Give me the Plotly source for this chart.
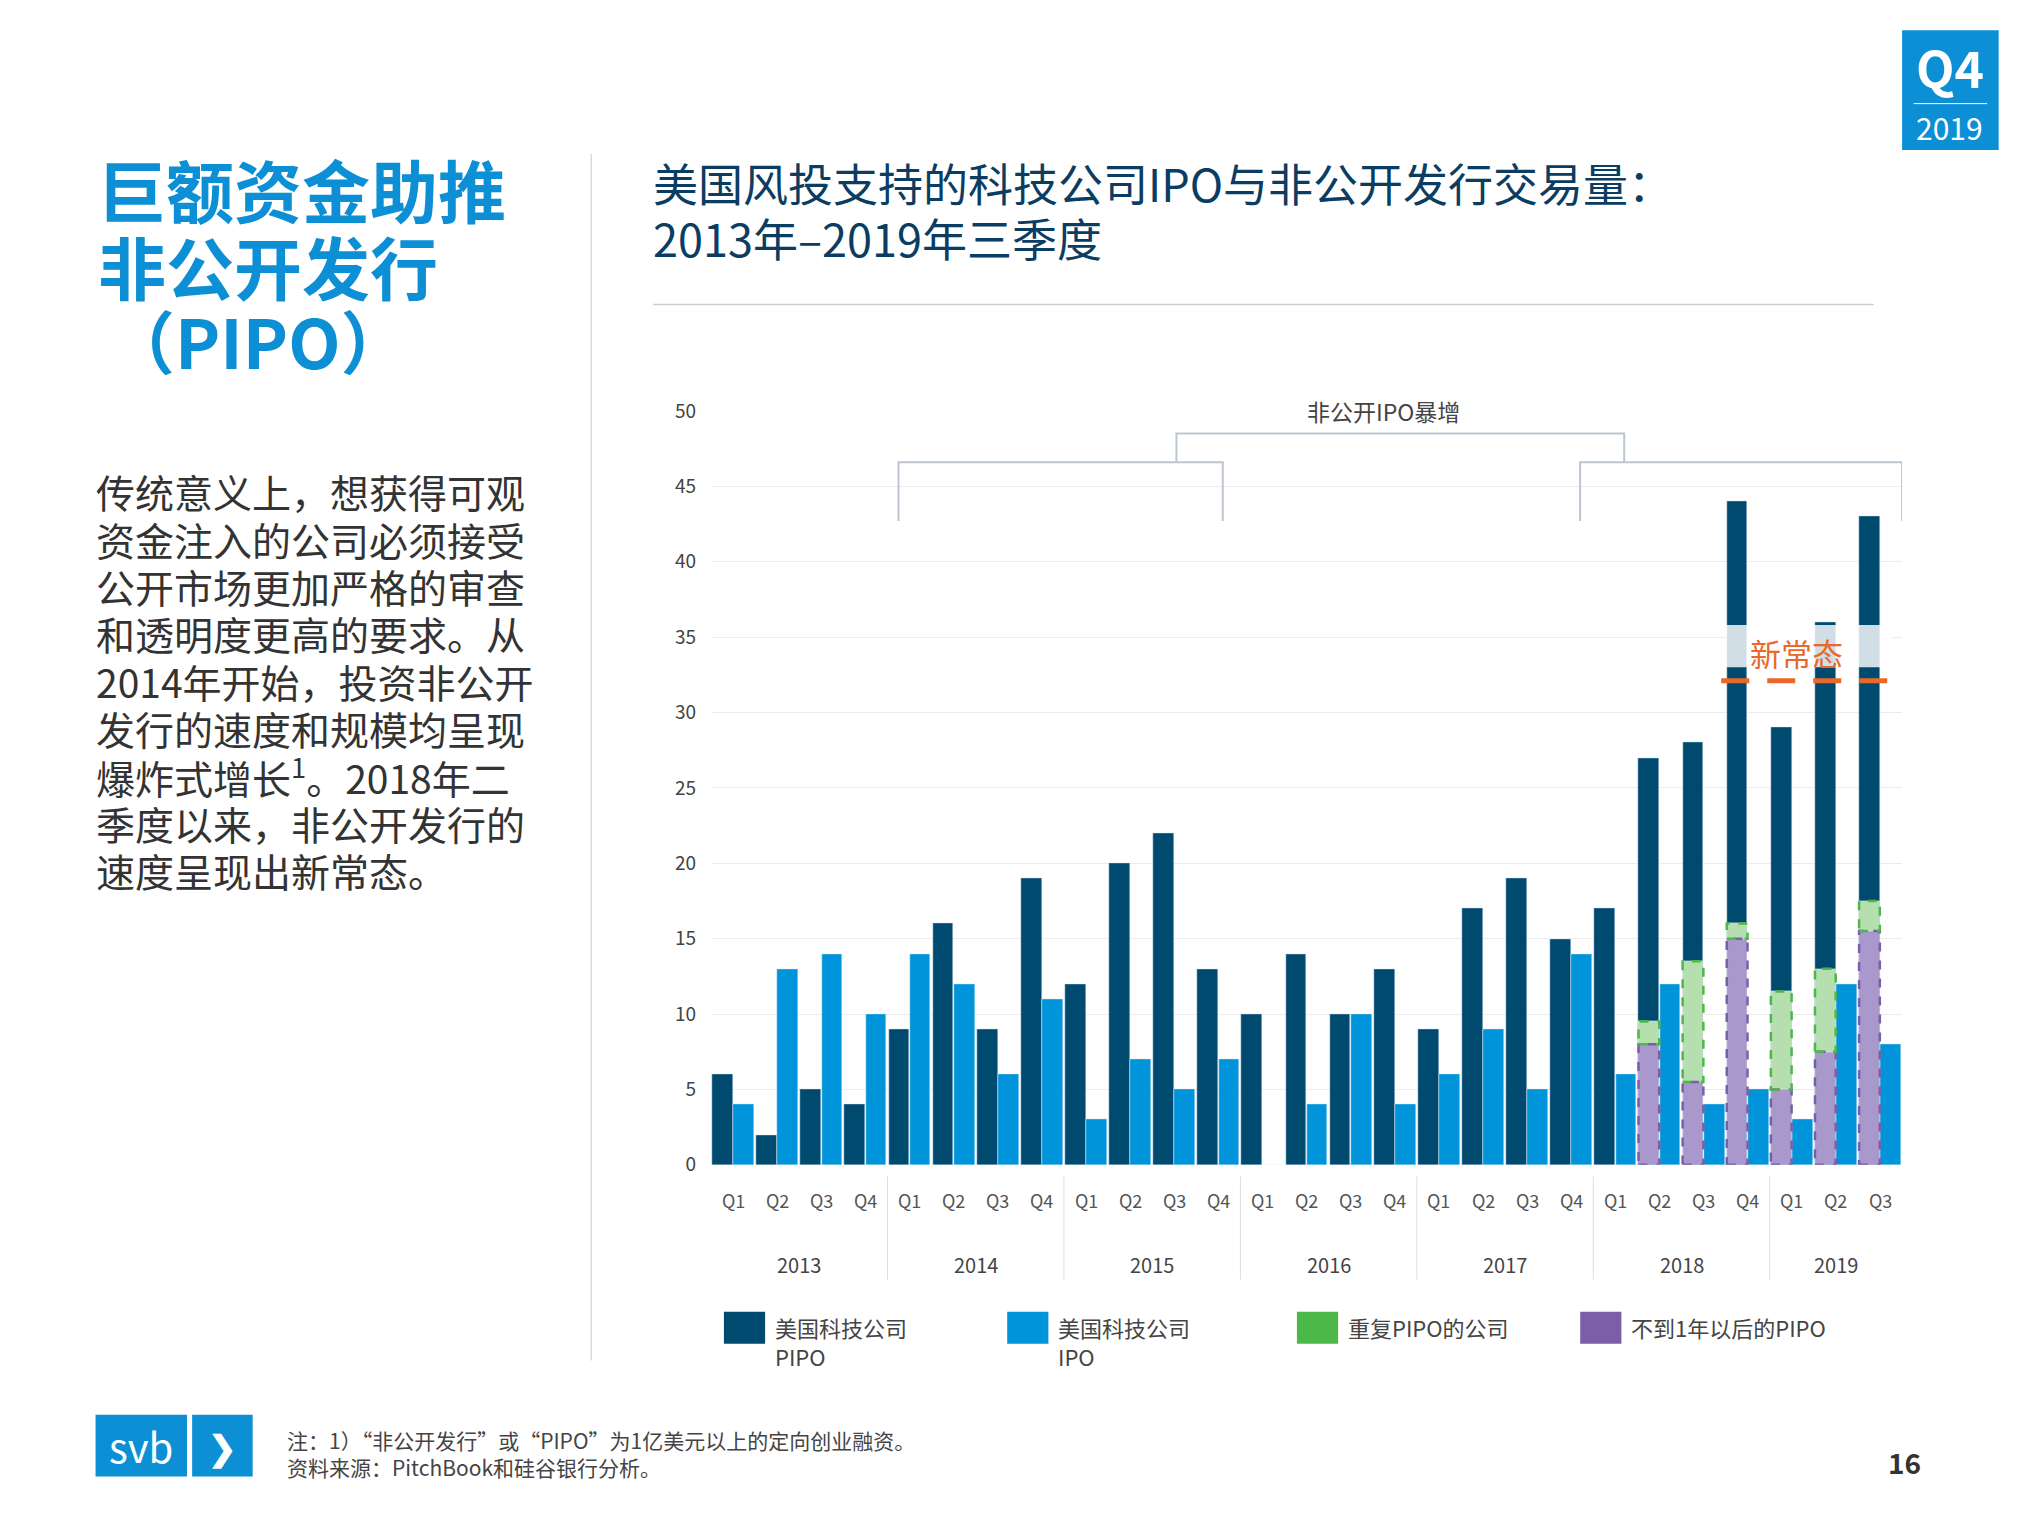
import plotly.graph_objects as go

FONT = "Noto Sans CJK SC"
years = ["2013", "2014", "2015", "2016", "2017", "2018", "2019"]
quarters = ["Q1", "Q2", "Q3", "Q4"] * 6 + ["Q1", "Q2", "Q3"]
pipo = [6, 2, 5, 4, 9, 16, 9, 19, 12, 20, 22, 13, 10, 14, 10, 13, 9, 17, 19, 15, 17, 27, 28, 44, 29, 36, 43]
ipo = [4, 13, 14, 10, 14, 12, 6, 11, 3, 7, 5, 7, 0, 4, 10, 4, 6, 9, 5, 14, 6, 12, 4, 5, 3, 12, 8]
# overlays for 2018Q2 .. 2019Q3
ov_idx = [21, 22, 23, 24, 25, 26]
under1y = [8, 5.5, 15, 5, 7.5, 15.5]
repeat = [1.5, 8, 1, 6.5, 5.5, 2]

title_lines = ["巨额资金助推", "非公开发行", "（PIPO）"]
body_lines = ["传统意义上，想获得可观", "资金注入的公司必须接受", "公开市场更加严格的审查",
              "和透明度更高的要求。从", "2014年开始，投资非公开", "发行的速度和规模均呈现",
              "爆炸式增长<sup>1</sup>。2018年二", "季度以来，非公开发行的", "速度呈现出新常态。"]
chart_title = ["美国风投支持的科技公司IPO与非公开发行交易量：", "2013年–2019年三季度"]

DARK = "#004a70"; LIGHT = "#0095da"; GREEN = "#4cb848"; GFILL = "#b6dfb0"
PURPLE = "#7b5ea7"; PFILL = "#a898cc"; ORANGE = "#e8692a"; BLUE = "#0d8fd6"

S = 2019 / 1568


def px(d):
    return (d - 7) * S / 2019


def py(d):
    t = (d - 16.4) / 0.982
    return 1 - t * S / 1517


W = 0.47
n = len(pipo)
xd = [i - 0.24 for i in range(n)]
xl = [i + 0.24 for i in range(n)]

fig = go.Figure()
fig.add_bar(x=xd, y=pipo, width=W, marker_color=DARK, showlegend=False)
fig.add_bar(x=xl, y=ipo, width=W, marker_color=LIGHT, showlegend=False)
ox = [xd[i] for i in ov_idx]
fig.add_bar(x=ox, y=under1y, width=W, marker_color=PFILL, showlegend=False)
fig.add_bar(x=ox, y=repeat, base=under1y, width=W, marker_color=GFILL, showlegend=False)

shapes = []
for x, u, r in zip(ox, under1y, repeat):
    shapes.append(dict(type="rect", xref="x", yref="y", x0=x - W / 2, x1=x + W / 2, y0=0, y1=u,
                       line=dict(color=PURPLE, width=2.5, dash="dash")))
    shapes.append(dict(type="rect", xref="x", yref="y", x0=x - W / 2, x1=x + W / 2, y0=u, y1=u + r,
                       line=dict(color=GREEN, width=2.5, dash="dash")))

shapes.append(dict(type="rect", xref="x", yref="y", x0=22.5, x1=26.3, y0=33.0, y1=35.8,
                   fillcolor="rgba(255,255,255,0.82)", line=dict(width=0), layer="above"))
shapes.append(dict(type="line", xref="x", yref="y", x0=22.4, x1=26.3, y0=32.1, y1=32.1,
                   line=dict(color=ORANGE, width=5, dash="28px,18px")))

BR = "#bcc6d0"
for x0, x1 in [(3.75, 11.1), (19.2, 26.5)]:
    shapes.append(dict(type="path", xref="x", yref="y",
                       path=f"M {x0},42.7 L {x0},46.6 L {x1},46.6 L {x1},42.7",
                       line=dict(color=BR, width=2)))
shapes.append(dict(type="path", xref="x", yref="y",
                   path="M 10.05,46.6 L 10.05,48.5 L 20.2,48.5 L 20.2,46.6",
                   line=dict(color=BR, width=2)))

for s in [3.5, 7.5, 11.5, 15.5, 19.5, 23.5]:
    shapes.append(dict(type="line", xref="x", yref="paper", x0=s, x1=s, y0=py(992), y1=py(912),
                       line=dict(color="#dddddd", width=1)))

shapes += [
    dict(type="line", xref="paper", yref="paper", x0=px(460), x1=px(460), y0=py(1055), y1=py(118),
         line=dict(color="#d9d9d9", width=1.5)),
    dict(type="line", xref="paper", yref="paper", x0=px(508), x1=px(1456), y0=py(235), y1=py(235),
         line=dict(color="#c8ced6", width=1.5)),
    dict(type="rect", xref="paper", yref="paper", x0=px(1478), x1=px(1553), y0=py(115), y1=py(22),
         fillcolor=BLUE, line=dict(width=0)),
    dict(type="line", xref="paper", yref="paper", x0=px(1487), x1=px(1544), y0=py(79), y1=py(79),
         line=dict(color="white", width=1)),
    dict(type="rect", xref="paper", yref="paper", x0=px(75), x1=px(146), y0=py(1145), y1=py(1097),
         fillcolor=BLUE, line=dict(width=0)),
    dict(type="rect", xref="paper", yref="paper", x0=px(150), x1=px(197), y0=py(1145), y1=py(1097),
         fillcolor=BLUE, line=dict(width=0)),
]

ann = []


def txt(x, y, t, size, color, xanchor="center", yanchor="middle", xref="paper", yref="paper", **kw):
    ann.append(dict(x=x, y=y, xref=xref, yref=yref, text=t, showarrow=False, xanchor=xanchor,
                    yanchor=yanchor, align="left", font=dict(size=size, color=color), **kw))


leg = [(563, DARK, "美国科技公司<br>PIPO"), (783, LIGHT, "美国科技公司<br>IPO"),
       (1008, GREEN, "重复PIPO的公司"), (1228, PURPLE, "不到1年以后的PIPO")]
for x0, c, t in leg:
    shapes.append(dict(type="rect", xref="paper", yref="paper", x0=px(x0), x1=px(x0 + 32),
                       y0=py(1042), y1=py(1017), fillcolor=c, line=dict(width=0)))
    txt(px(x0 + 38), py(1015), t, 22, "#444", xanchor="left", yanchor="top")

for i, q in enumerate(quarters):
    txt(i, py(930), q, 18, "#555", xref="x")
for k, yv in enumerate(years):
    c = 1.5 + 4 * k if k < 6 else 25
    txt(c, py(980), yv, 20, "#444", xref="x")

for k, t in enumerate(title_lines):
    txt(px([75, 75, 82][k]), py([145, 205, 262][k]), f"<b>{t}</b>", 68, BLUE, xanchor="left")
for k, t in enumerate(body_lines):
    txt(px(74), py(380 + 36.75 * k), t, 39, "#333", xanchor="left")
for k, t in enumerate(chart_title):
    txt(px(506), py([140, 183][k]), t, 45, "#0b3d63", xanchor="left")

txt(14.75, 50, "非公开IPO暴增", 23, "#444", xref="x", yref="y", bgcolor="white")
txt(24.1, 34.0, "新常态", 31, ORANGE, xref="x", yref="y")
txt(26.6, 16.9, "44%", 22, GREEN, xanchor="left", xref="x", yref="y")
txt(26.6, 13.1, "35%", 22, PURPLE, xanchor="left", xref="x", yref="y")
txt(px(1515), py(50), "<b>Q4</b>", 50, "white")
txt(px(1515), py(97), "2019", 30, "white")
txt(px(110), py(1121), "svb", 40, "white")
txt(px(173), py(1121), "<b>❯</b>", 34, "white")
txt(px(222), py(1117), "注：1）“非公开发行”或“PIPO”为1亿美元以上的定向创业融资。", 21, "#444", xanchor="left")
txt(px(222), py(1138), "资料来源：PitchBook和硅谷银行分析。", 21, "#444", xanchor="left")
txt(px(1480), py(1134), "<b>16</b>", 28, "#333")

fig.update_layout(
    width=2019, height=1517, plot_bgcolor="white", paper_bgcolor="white",
    margin=dict(l=0, r=0, t=0, b=0), barmode="overlay", bargap=0,
    font=dict(family=FONT), shapes=shapes, annotations=ann,
    xaxis=dict(domain=[px(553), px(1478)], range=[-0.5, 26.5], showticklabels=False,
               showgrid=False, zeroline=False, fixedrange=True),
    yaxis=dict(domain=[py(903), py(317)], range=[0, 50.05], dtick=5, showgrid=True, gridcolor="#ececec",
               zeroline=False, ticks="", ticklabelstandoff=14, tickfont=dict(size=19, color="#444")),
)
fig.write_html("out.html")
